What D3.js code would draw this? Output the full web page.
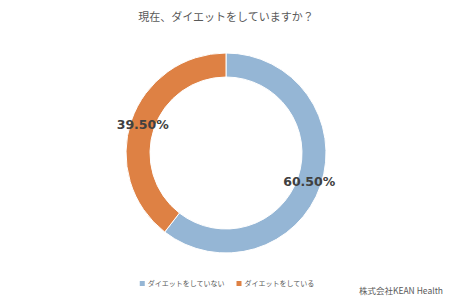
<!DOCTYPE html>
<html>
<head>
<meta charset="utf-8">
<script src="https://cdn.jsdelivr.net/npm/d3@7"></script>
<style>
  body { margin: 0; background: #fff; }
  svg { display: block; font-family: "Noto Sans CJK JP", "Noto Sans", sans-serif; }
</style>
</head>
<body>
<svg width="452" height="297"></svg>
<script>
var labels = ["ダイエットをしていない", "ダイエットをしている"];
var values = [60.5, 39.5];
var colors = ["#95b6d5", "#de8144"];
var title = "現在、ダイエットをしていますか？";
var credit = "株式会社KEAN Health";

var svg = d3.select("svg"),
    width = +svg.attr("width"),
    height = +svg.attr("height");

var cx = 226, cy = 153, rOuter = 100, rInner = 76;

svg.append("text")
  .attr("x", 226)
  .attr("y", 21)
  .attr("text-anchor", "middle")
  .style("font-size", "11px")
  .style("fill", "#595959")
  .text(title);

var pie = d3.pie().sort(null).value(function(d) { return d; });
var arc = d3.arc().innerRadius(rInner).outerRadius(rOuter);
var labelArc = d3.arc().innerRadius(88).outerRadius(88);

var g = svg.append("g").attr("transform", "translate(" + cx + "," + cy + ")");

var arcs = pie(values);

g.selectAll("path")
  .data(arcs)
  .enter().append("path")
  .attr("d", arc)
  .attr("fill", function(d, i) { return colors[i]; })
  .attr("stroke", "#fff")
  .attr("stroke-width", 1);

g.selectAll("text.lbl")
  .data(arcs)
  .enter().append("text")
  .attr("class", "lbl")
  .attr("transform", function(d) { return "translate(" + labelArc.centroid(d) + ")"; })
  .attr("text-anchor", "middle")
  .attr("dy", "0.35em")
  .style("font-family", "'DejaVu Sans', sans-serif")
  .style("font-size", "12.5px")
  .style("font-weight", "bold")
  .style("fill", "#404040")
  .text(function(d) { return d.value.toFixed(2) + "%"; });

// legend, laid out from measured text widths and centred
var legend = svg.append("g");
var items = labels.map(function(l, i) {
  var it = legend.append("g");
  it.append("rect")
    .attr("x", 0)
    .attr("y", -5)
    .attr("width", 5)
    .attr("height", 5)
    .attr("fill", colors[i]);
  var t = it.append("text")
    .attr("x", 8)
    .attr("y", 0)
    .style("font-size", "7px")
    .style("fill", "#595959")
    .text(l);
  return { g: it, w: 8 + t.node().getComputedTextLength() };
});
var gap = 12;
var total = d3.sum(items, function(d) { return d.w; }) + gap * (items.length - 1);
var x0 = 227 - total / 2;
items.forEach(function(it) {
  it.g.attr("transform", "translate(" + x0 + ",286)");
  x0 += it.w + gap;
});

svg.append("text")
  .attr("x", 443)
  .attr("y", 294)
  .attr("text-anchor", "end")
  .style("font-size", "8.5px")
  .style("fill", "#595959")
  .text(credit);
</script>
</body>
</html>
